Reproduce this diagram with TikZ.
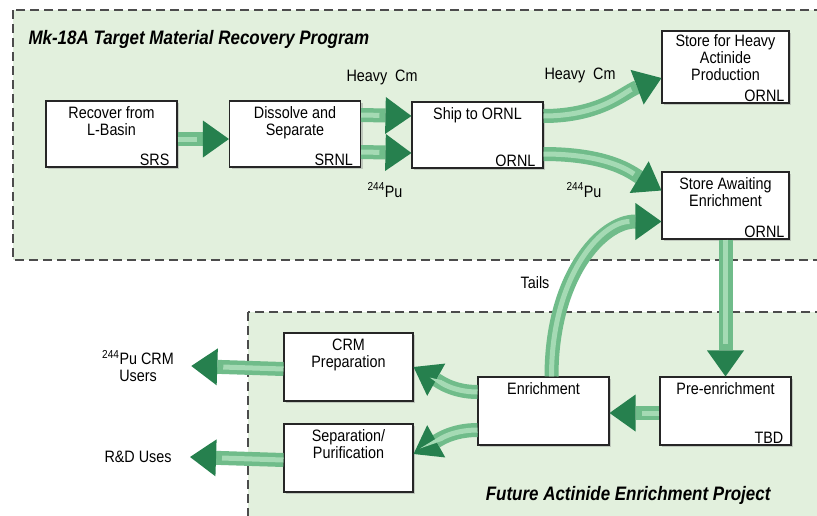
\documentclass[tikz,border=0pt]{standalone}
\usepackage{fontspec}
\setmainfont{Liberation Sans}[FakeStretch=0.87]
\usetikzlibrary{arrows.meta,shadows}
\definecolor{zonegreen}{RGB}{226,240,221}
\definecolor{flowmid}{RGB}{112,188,138}
\definecolor{flowlight}{RGB}{165,218,180}
\definecolor{flowhead}{RGB}{38,128,78}

\begin{document}
\begin{tikzpicture}[x=1pt,y=-1pt,
    font=\fontsize{16.5}{17}\selectfont,
    zone/.style={fill=zonegreen,draw=black!70,line width=1.3pt,dash pattern=on 9pt off 5pt},
    stage/.style={draw=black!85,line width=1.1pt,fill=white,minimum width=131pt,minimum height=66pt,inner sep=0pt,
        drop shadow={shadow xshift=2pt,shadow yshift=-2pt,opacity=0.35}},
    task/.style={anchor=north,align=center,inner sep=6pt},
    site/.style={anchor=south east,inner xsep=8pt,inner ysep=2pt},
    flow/.style={line width=14pt,draw=flowmid,-{Triangle[width=37pt,length=26pt,line width=0pt,color=flowhead]},
        postaction={draw=flowlight,line width=5pt,-,shorten >=32pt}},
    heading/.style={font=\fontsize{19.5}{20}\selectfont\bfseries\itshape}]
    \useasboundingbox (0,0) rectangle (817,515);
    \clip (0,0) rectangle (817,515);
    \fill[white] (0,0) rectangle (817,515);

    \draw[zone] (13,10) rectangle (840,260);
    \draw[zone] (248,312) rectangle (840,540);

    \node[heading,anchor=west] (title) at (25,39) {Mk-18A Target Material Recovery Program};
    \node[heading,anchor=east] (project) at (774,495) {Future Actinide Enrichment Project};

    \node[stage,label={[task]north:{Recover from\\L-Basin}},label={[site]south east:SRS}] (rec) at (111.5,134) {};
    \node[stage,label={[task]north:{Dissolve and\\Separate}},label={[site]south east:SRNL}] (dis) at (295,134) {};
    \node[stage,label={[task]north:{Ship to ORNL}},label={[site]south east:ORNL}] (ship) at (477.5,135) {};
    \node[stage,minimum width=127pt,minimum height=72pt,label={[task,inner sep=4pt]north:{Store for Heavy\\Actinide\\Production}},
        label={[site,inner xsep=5pt]south east:ORNL}] (heavy) at (725.5,67) {};
    \node[stage,minimum width=127pt,minimum height=67pt,label={[task]north:{Store Awaiting\\Enrichment}},
        label={[site,inner xsep=5pt]south east:ORNL}] (await) at (725.5,205.5) {};
    \node[stage,minimum width=129pt,minimum height=68pt,label={[task]north:{CRM\\Preparation}}] (crm) at (348.5,367) {};
    \node[stage,minimum width=129pt,minimum height=68pt,label={[task]north:{Separation/\\Purification}}] (sep) at (348.5,458) {};
    \node[stage,minimum height=68pt,label={[task]north:{Enrichment}}] (enr) at (543.5,411) {};
    \node[stage,minimum height=68pt,label={[task]north:{Pre-enrichment}},label={[site]south east:TBD}] (pre) at (725.5,411) {};

    \node (cm1) at (382,77) {Heavy\ \ Cm};
    \node (cm2) at (580,75) {Heavy\ \ Cm};
    \node (pu1) at (385,190) {\textsuperscript{244}Pu};
    \node (pu2) at (584,190) {\textsuperscript{244}Pu};
    \node (tails) at (535,283) {Tails};
    \node[align=center] (users) at (138,366) {\textsuperscript{244}Pu CRM\\Users};
    \node (rd) at (138,457) {R\&D Uses};

    \draw[flow] ([yshift=-5pt]rec.east) -- ([yshift=-5pt]dis.west);
    \draw[flow] ([yshift=19pt]dis.east) -- ([yshift=19pt]ship.west);
    \draw[flow] ([yshift=-18pt]dis.east) -- ([yshift=-18pt]ship.west);
    \draw[flow] ([yshift=19pt]ship.east) .. controls +(57,0) and +(-37,14) .. ([yshift=-11pt]heavy.west);
    \draw[flow] ([yshift=-19pt]ship.east) .. controls +(65,0) and +(-30,-18) .. ([yshift=15pt]await.west);
    \draw[flow] ([xshift=8pt]enr.north) .. controls +(0,-100) and +(-60,0) .. ([yshift=-16pt]await.west);
    \draw[flow] (await.south) -- (pre.north);
    \draw[flow] ([yshift=-2pt]pre.west) -- ([yshift=-2pt]enr.east);
    \draw[flow] ([yshift=19pt]enr.west) .. controls +(-25,0) and +(25,14) .. (crm.east);
    \draw[flow] ([yshift=-19pt]enr.west) .. controls +(-25,0) and +(25,-14) .. ([yshift=4pt]sep.east);
    \draw[flow] ([yshift=-2pt]crm.west) -- ([xshift=14pt]users.east);
    \draw[flow] ([yshift=-2pt]sep.west) -- ([xshift=15pt]rd.east);
\end{tikzpicture}
\end{document}
